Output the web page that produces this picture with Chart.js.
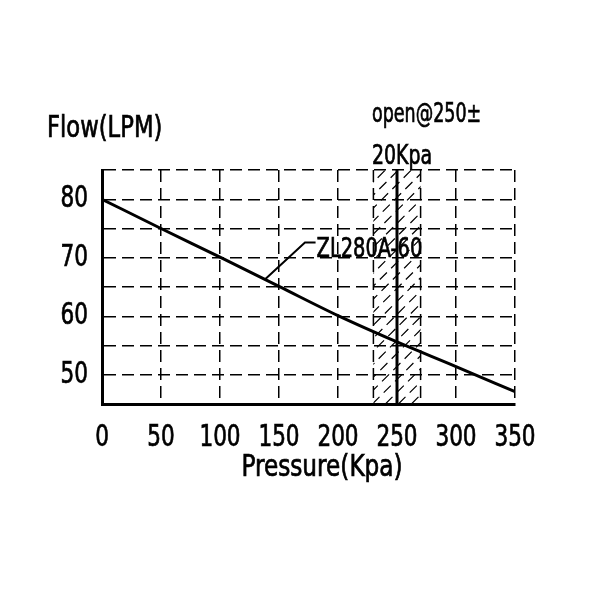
<!DOCTYPE html>
<html>
<head>
<meta charset="utf-8">
<script src="https://cdn.jsdelivr.net/npm/chart.js@4.4.0/dist/chart.umd.min.js"></script>
<style>
  body { margin: 0; background: #fff; }
  canvas { display: block; }
</style>
</head>
<body>
<canvas id="chart" width="600" height="600"></canvas>
<script>
// Flow vs pressure curve
const pressure = [0, 50, 100, 150, 200, 250, 300, 350];
const flow = [80, 75, 70.1, 65.1, 60.1, 55.6, 51.4, 47.1];

// opening band
const openLow = 230;
const openHigh = 270;
const openAt = 250;

const seriesName = 'ZL280A-60';
const xTitle = 'Pressure(Kpa)';
const yTitle = 'Flow(LPM)';
const openText = ['open@250±', '20Kpa'];

const FONT = '"DejaVu Sans Condensed", "DejaVu Sans", sans-serif';
const ctx = document.getElementById('chart');

// narrow tall text, like the CAD font of the original
function drawText(c, text, x, y, align, size, sx) {
  c.save();
  c.translate(x, y);
  c.scale(sx, 1);
  c.font = size + 'px ' + FONT;
  c.textAlign = align;
  c.textBaseline = 'middle';
  c.fillStyle = '#000';
  c.strokeStyle = '#000';
  c.lineWidth = 0.7;
  c.fillText(text, 0, 0);
  c.strokeText(text, 0, 0);
  c.restore();
}

const overlay = {
  id: 'overlay',
  beforeDatasetsDraw(chart) {
    const c = chart.ctx;
    const x = chart.scales.x;
    const area = chart.chartArea;
    const x1 = x.getPixelForValue(openLow), x2 = x.getPixelForValue(openHigh);

    // hatching
    c.save();
    c.beginPath();
    c.rect(x1, area.top, x2 - x1, area.bottom - area.top);
    c.clip();
    c.strokeStyle = '#000';
    c.lineWidth = 1.2;
    c.setLineDash([10, 6]);
    for (let k = -300; k < 300; k += 13) {
      c.beginPath();
      c.moveTo(x1 + k, area.bottom);
      c.lineTo(x1 + k + 300, area.bottom - 300);
      c.stroke();
    }
    c.restore();

    // band edges
    c.save();
    c.strokeStyle = '#000';
    c.lineWidth = 1.5;
    c.setLineDash([12, 6]);
    [x1, x2].forEach(px => {
      c.beginPath();
      c.moveTo(px, area.top);
      c.lineTo(px, area.bottom);
      c.stroke();
    });
    c.setLineDash([]);
    c.lineWidth = 3;
    const xm = x.getPixelForValue(openAt);
    c.beginPath();
    c.moveTo(xm, area.top);
    c.lineTo(xm, area.bottom);
    c.stroke();
    c.restore();
  },
  afterDraw(chart) {
    const c = chart.ctx;
    const x = chart.scales.x, y = chart.scales.y;

    // tick labels
    x.ticks.forEach(t => {
      drawText(c, String(t.value), x.getPixelForValue(t.value), 438, 'center', 30, 0.8);
    });
    y.ticks.forEach(t => {
      if (t.value % 10 === 0) {
        drawText(c, String(t.value), 88, y.getPixelForValue(t.value), 'right', 30, 0.8);
      }
    });

    // series label with leader line
    c.save();
    c.strokeStyle = '#000';
    c.lineWidth = 2;
    c.beginPath();
    c.moveTo(x.getPixelForValue(138), y.getPixelForValue(66.3));
    c.lineTo(x.getPixelForValue(172), y.getPixelForValue(72.6));
    c.lineTo(x.getPixelForValue(181), y.getPixelForValue(72.6));
    c.stroke();
    c.restore();
    drawText(c, seriesName, x.getPixelForValue(181) + 1, y.getPixelForValue(72.6) + 7, 'left', 27, 0.8);

    drawText(c, yTitle, 47, 129, 'left', 30, 0.84);
    drawText(c, openText[0], 372, 115, 'left', 27, 0.72);
    drawText(c, openText[1], 372, 157, 'left', 27, 0.78);
    drawText(c, xTitle, 322, 468, 'center', 30, 0.86);
  }
};

new Chart(ctx, {
  type: 'line',
  data: {
    datasets: [{
      label: seriesName,
      data: pressure.map((p, i) => ({ x: p, y: flow[i] })),
      borderColor: '#000',
      borderWidth: 3,
      pointRadius: 0,
      cubicInterpolationMode: 'monotone',
      fill: false
    }]
  },
  options: {
    responsive: false,
    animation: false,
    layout: { padding: { top: 170, right: 85, left: 0, bottom: 0 } },
    plugins: { legend: { display: false }, tooltip: { enabled: false } },
    scales: {
      x: {
        type: 'linear',
        min: 0,
        max: 350,
        afterFit(scale) { scale.height = 196; },
        ticks: {
          stepSize: 50,
          display: false,
          font: { size: 10 }
        },
        grid: { color: '#000', lineWidth: 1.5, drawTicks: false },
        border: { display: true, color: '#000', width: 3, dash: [12, 6] }
      },
      y: {
        min: 45,
        max: 85,
        afterFit(scale) { scale.width = 102; },
        ticks: {
          stepSize: 5,
          display: false,
          maxTicksLimit: 20,
          font: { size: 10 }
        },
        grid: { color: '#000', lineWidth: 1.5, drawTicks: false },
        border: { display: true, color: '#000', width: 3, dash: [12, 6] }
      }
    }
  },
  plugins: [overlay]
});
</script>
</body>
</html>
